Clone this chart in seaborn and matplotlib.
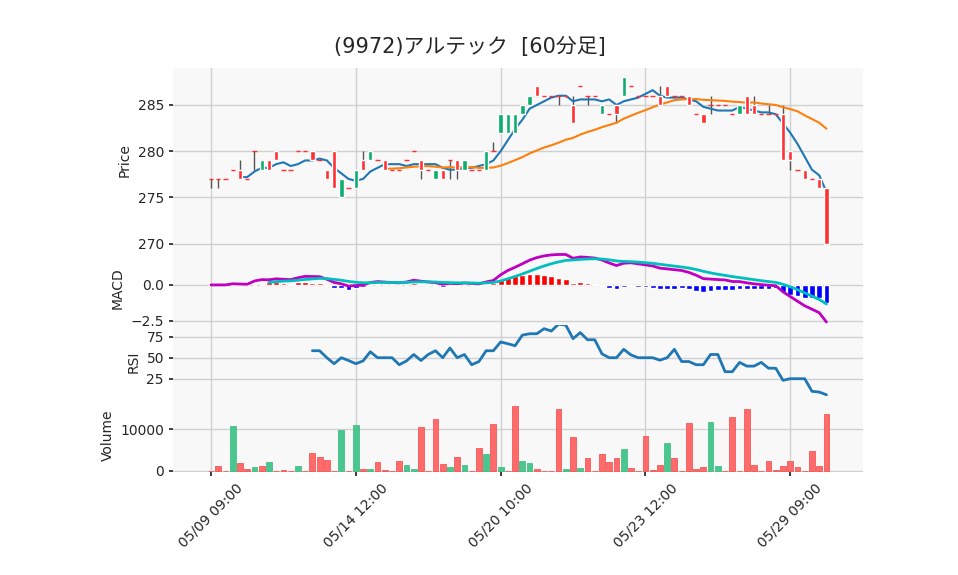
import numpy as np
import pandas as pd
import matplotlib
matplotlib.use("Agg")
import matplotlib.pyplot as plt
import seaborn as sns

# OHLC per bar (60-minute bars)
opens = [277,277,277,278,278,277,280,278,279,280,278,278,280,280,280,279,278,280,275,276,
         276,279,279,279,279,278,278,279,280,279,278,277,278,279,279,278,278,278,278,280,
         282,282,282,284,285,287,286,286,286,286,285,287,286,286,284,284,285,286,287,286,
         286,286,286,287,286,286,286,284,284,285,285,285,284,284,286,285,284,284,284,284,
         280,278,278,277,277,276]
highs  = [277,277,277,278,279,277,280,279,279,280,278,278,280,280,280,279,278,280,277,276,
         278,280,280,279,279,278,278,279,280,279,278,278,278,279,279,279,278,278,280,281,
         284,284,284,285,286,287,286,286,286,286,286,287,286,286,285,284,285,288,287,286,
         286,286,287,287,286,286,286,284,284,286,285,285,284,285,286,286,284,285,284,285,
         280,278,278,277,277,276]
lows   = [276,276,277,278,277,277,278,278,278,279,278,278,280,280,279,279,277,276,275,276,
         276,278,279,279,278,278,278,279,280,277,278,277,277,277,277,278,278,278,278,280,
         282,282,282,284,285,286,286,286,285,286,283,287,285,286,284,284,283,286,287,286,
         286,286,285,286,286,286,285,284,283,284,285,285,284,284,284,284,284,284,284,279,
         278,278,277,277,276,270]
closes = [277,277,277,278,277,277,280,279,278,279,278,278,280,280,279,279,277,276,277,276,
         278,278,280,279,278,278,278,279,280,278,278,278,277,279,278,279,278,278,280,280,
         284,284,284,285,286,286,286,286,286,286,283,287,286,286,285,284,284,288,287,286,
         286,286,285,286,286,286,285,284,283,285,285,285,284,285,284,284,284,284,284,279,
         279,278,277,277,276,270]
volumes = [0,1300,0,10770,2000,400,850,1080,2230,0,150,0,1300,0,4300,3400,2700,0,9850,0,
           11000,400,400,2230,150,0,2460,1540,400,10540,0,12380,1770,850,3380,1540,0,5460,4080,11230,
           850,0,15380,2460,2000,400,0,0,14700,400,8000,600,3150,0,4080,2230,3150,5230,600,0,
           8230,150,1540,6620,3150,0,11460,400,850,11700,1080,0,12850,0,14700,1540,0,2460,150,1080,
           2460,850,0,4770,1080,13540]
vol_up = [0,0,0,1,0,0,1,0,1,0,0,0,1,0,0,0,0,0,1,0,
          1,0,1,0,0,0,0,1,1,0,0,0,0,1,0,1,0,0,1,0,
          1,0,0,1,1,0,0,0,0,1,0,1,0,0,0,0,0,1,0,0,
          0,0,0,1,0,0,0,0,0,1,1,0,0,0,0,0,0,0,0,0,
          0,0,0,0,0,0]
tick_pos = [0, 20, 40, 60, 80]
tick_labels = ["05/09 09:00", "05/14 12:00", "05/20 10:00", "05/23 12:00", "05/29 09:00"]
title = "(9972)アルテック  [60分足]"

df = pd.DataFrame(dict(o=opens, h=highs, l=lows, c=closes, v=volumes, up=vol_up))
df["i"] = np.arange(len(df))
df["ma5"] = df["c"].rolling(5).mean()
df["ma25"] = df["c"].rolling(25).mean()
ema12 = df["c"].ewm(span=12, adjust=False).mean()
ema26 = df["c"].ewm(span=26, adjust=False).mean()
df["macd"] = ema12 - ema26
df["sig"] = df["macd"].ewm(span=9, adjust=False).mean()
df["mh"] = df["macd"] - df["sig"]
df.loc[:7, ["sig", "mh"]] = np.nan
d = df["c"].diff()
g = d.clip(lower=0).rolling(14).mean()
ls = (-d.clip(upper=0)).rolling(14).mean()
df["rsi"] = 100 * g / (g + ls)

sns.set_theme(style="whitegrid", rc={"axes.facecolor": "#f8f8f8", "grid.color": "#d0d0d0",
                                     "font.family": ["DejaVu Sans", "Noto Sans CJK JP"]})
fig = plt.figure(figsize=(9.58, 5.75), dpi=100)
L, W = 173/958, 690/958
def mk(top, bot):
    return fig.add_axes([L, 1-bot/575, W, (bot-top)/575])
ax1 = mk(68, 252); ax2 = mk(252, 325); ax3 = mk(325, 398); ax4 = mk(398, 472)
axes = [ax1, ax2, ax3, ax4]

upc, dnc = "#0cad6e", "#fe3032"
for r in df.itertuples():
    col = upc if r.c > r.o else dnc
    ax1.vlines(r.i, r.l, r.h, color="#555555", lw=1, zorder=2)
    hgt = abs(r.c - r.o)
    if hgt == 0:
        ax1.hlines(r.c, r.i-0.3, r.i+0.3, color=dnc, lw=1, zorder=3)
    else:
        ax1.bar(r.i, hgt, bottom=min(r.o, r.c), width=0.6, color=col, zorder=3)
sns.lineplot(data=df, x="i", y="ma5", ax=ax1, color="#1f77b4", lw=1.5)
sns.lineplot(data=df, x="i", y="ma25", ax=ax1, color="#ff7f0e", lw=1.5)
ax1.set_ylim(269.1, 289); ax1.set_yticks([270, 275, 280, 285]); ax1.set_ylabel("Price")

hc = np.where(df["mh"].fillna(0) >= 0, "red", "blue")
ax2.bar(df["i"], df["mh"].fillna(0), width=0.8, color=hc)
sns.lineplot(data=df, x="i", y="macd", ax=ax2, color="#c000c0", lw=2)
sns.lineplot(data=df, x="i", y="sig", ax=ax2, color="#00bfbf", lw=2)
ax2.set_ylim(-2.8, 2.3); ax2.set_yticks([-2.5, 0.0]); ax2.set_ylabel("MACD")

sns.lineplot(data=df, x="i", y="rsi", ax=ax3, color="#1f77b4", lw=2)
ax3.set_ylim(2, 89); ax3.set_yticks([25, 50, 75]); ax3.set_ylabel("RSI")

vc = np.where(df["up"] == 1, "#4ac68f", "#ff6b6b")
ec = np.where(df["up"] == 1, "#33b87c", "#f04848")
ax4.bar(df["i"], df["v"], width=0.8, color=vc, edgecolor=ec, lw=0.5)
ax4.set_ylim(-240, 17400); ax4.set_yticks([0, 10000]); ax4.set_ylabel("Volume")

for a in axes:
    a.set_xlim(-5.25, 90.05)
    a.set_xticks(tick_pos)
    a.set_xlabel("")
    for s in a.spines.values():
        s.set_visible(False)
    a.tick_params(axis="y", left=True, length=3, labelsize=10)
    a.tick_params(axis="x", length=0)
    a.yaxis.label.set_size(10)
for a in axes[:-1]:
    a.set_xticklabels([])
ax4.tick_params(axis="x", length=3, bottom=True)
ax4.set_xticklabels(tick_labels, rotation=45, fontsize=10)
fig.text(0.49, 1-53/575, title, ha="center", va="baseline", fontsize=15)
fig.savefig("out.png", dpi=100)
